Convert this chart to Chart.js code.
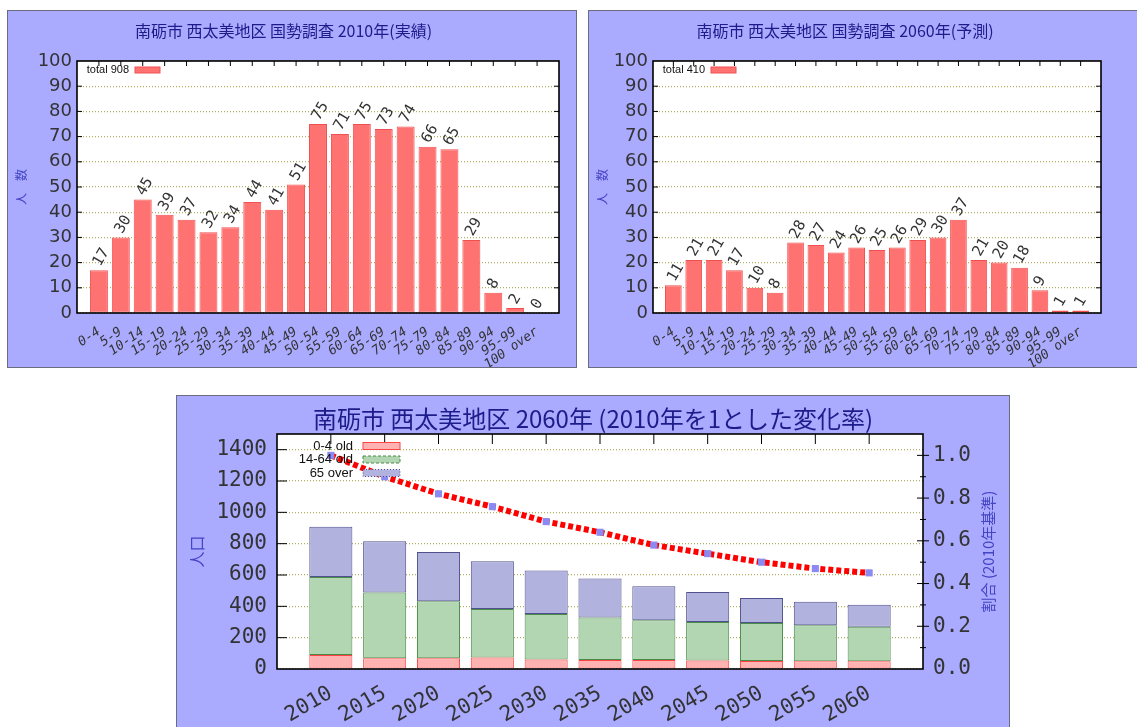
<!DOCTYPE html>
<html>
<head>
<meta charset="utf-8">
<script src="https://cdn.jsdelivr.net/npm/chart.js@4.4.0/dist/chart.umd.min.js"></script>
<style>
html, body { margin:0; padding:0; background:#fff; overflow:hidden; width:1137px; height:727px; }
.panel { position:absolute; background:#aaaaff; border:1px solid #6c6c80; }
#p1 { left:7px; top:10px; width:568px; height:356px; }
#p2 { left:588px; top:10px; width:556px; height:356px; }
#p3 { left:176px; top:395px; width:832px; height:340px; }
canvas { display:block; }
</style>
</head>
<body>
<div class="panel" id="p1"><canvas id="c1" width="568" height="356"></canvas></div>
<div class="panel" id="p2"><canvas id="c2" width="556" height="356"></canvas></div>
<div class="panel" id="p3"><canvas id="c3" width="832" height="340"></canvas></div>
<script>
// age groups (top charts)
var ageGroups = ['0-4','5-9','10-14','15-19','20-24','25-29','30-34','35-39','40-44','45-49',
   '50-54','55-59','60-64','65-69','70-74','75-79','80-84','85-89','90-94','95-99','100 over'];
var pop2010 = [17,30,45,39,37,32,34,44,41,51,75,71,75,73,74,66,65,29,8,2,0];
var pop2060 = [11,21,21,17,10,8,28,27,24,26,25,26,29,30,37,21,20,18,9,1,1];

// bottom chart
var years = ['2010','2015','2020','2025','2030','2035','2040','2045','2050','2055','2060'];
var popYoung   = [89,68,68,74,60,57,57,55,51,49,49];
var popWorking = [498,421,364,309,291,271,254,245,243,230,221];
var popOld     = [321,326,315,304,277,249,217,191,159,151,140];
var ratio      = [1.0,0.90,0.82,0.76,0.69,0.64,0.58,0.54,0.50,0.47,0.45];

var titleColor = '#1c1c8a';
var axisTitleColor = '#4444c4';
var jpFont = '"Noto Sans CJK JP", "Noto Sans", sans-serif';

// white plot area + black frame with inward ticks (gnuplot look)
var framePlugin = {
   id: 'frame',
   beforeDraw: function(chart) {
      var a = chart.chartArea, ctx = chart.ctx;
      ctx.save();
      ctx.fillStyle = '#ffffff';
      ctx.fillRect(a.left, a.top, a.width, a.height);
      ctx.restore();
   },
   afterDatasetsDraw: function(chart, args, opts) {
      var a = chart.chartArea, ctx = chart.ctx;
      var len = opts.tickLength || 5;
      var xs = chart.scales.x, ys = chart.scales.y, y1 = chart.scales.y1;
      ctx.save();
      ctx.strokeStyle = '#000';
      ctx.lineWidth = 1;
      ctx.beginPath();
      ys.ticks.forEach(function(t) {
         if (t.value <= ys.min || t.value >= ys.max) return;
         var py = ys.getPixelForValue(t.value);
         ctx.moveTo(a.left, py); ctx.lineTo(a.left + len, py);
         if (!y1) { ctx.moveTo(a.right, py); ctx.lineTo(a.right - len, py); }
      });
      xs.ticks.forEach(function(t) {
         if (!t.label) return;
         var px = xs.getPixelForValue(t.value);
         ctx.moveTo(px, a.top); ctx.lineTo(px, a.top + len);
      });
      if (y1) {
         y1.ticks.forEach(function(t) {
            var py = y1.getPixelForValue(t.value);
            if (t.value > 0) { ctx.moveTo(a.right - 6, py); ctx.lineTo(a.right + 6, py); }
            var pm = y1.getPixelForValue(t.value + 0.1);
            if (pm > a.top) { ctx.moveTo(a.right - 3, pm); ctx.lineTo(a.right + 3, pm); }
         });
      }
      ctx.stroke();
      ctx.lineWidth = 1.6;
      ctx.strokeRect(a.left, a.top, a.width, a.height);
      ctx.restore();
   }
};

// rotated value labels over each bar
var barValuePlugin = {
   id: 'barValues',
   afterDatasetsDraw: function(chart) {
      var ctx = chart.ctx;
      var ds = chart.data.datasets[0];
      var meta = chart.getDatasetMeta(0);
      ctx.save();
      ctx.font = '15px "DejaVu Sans Mono"';
      ctx.fillStyle = '#333';
      ctx.textAlign = 'left';
      ctx.textBaseline = 'middle';
      meta.data.forEach(function(bar, i) {
         ctx.save();
         ctx.translate(bar.x - 2, bar.y - 5);
         ctx.rotate(-Math.PI / 3);
         ctx.fillText(String(ds.data[i].y), 0, 0);
         ctx.restore();
      });
      ctx.restore();
   }
};

// key inside plot: text right aligned, box on the right
var keyPlugin = {
   id: 'key',
   afterDraw: function(chart, args, opts) {
      var a = chart.chartArea, ctx = chart.ctx;
      ctx.save();
      ctx.font = opts.font;
      ctx.textAlign = 'right';
      ctx.textBaseline = 'middle';
      var row = 0;
      chart.data.datasets.forEach(function(ds) {
         if (ds.type === 'line') return;
         var y = a.top + opts.top + row * opts.rowHeight;
         ctx.fillStyle = '#111';
         ctx.fillText(ds.label, a.left + opts.textRight, y);
         ctx.fillStyle = ds.backgroundColor;
         ctx.fillRect(a.left + opts.boxLeft, y - opts.boxH / 2, opts.boxW, opts.boxH);
         ctx.setLineDash(opts.dashes ? opts.dashes[row] : []);
         ctx.strokeStyle = ds.borderColor;
         ctx.lineWidth = 1;
         ctx.strokeRect(a.left + opts.boxLeft, y - opts.boxH / 2, opts.boxW, opts.boxH);
         ctx.setLineDash([]);
         row++;
      });
      ctx.restore();
   }
};

// right axis title, reading bottom to top
var rightTitlePlugin = {
   id: 'rightTitle',
   afterDraw: function(chart, args, opts) {
      if (!opts.text) return;
      var a = chart.chartArea, ctx = chart.ctx;
      ctx.save();
      ctx.translate(a.right + opts.offset, (a.top + a.bottom) / 2);
      ctx.rotate(-Math.PI / 2);
      ctx.font = opts.font;
      ctx.fillStyle = opts.color;
      ctx.textAlign = 'center';
      ctx.textBaseline = 'middle';
      ctx.fillText(opts.text, 0, 0);
      ctx.restore();
   }
};

function ageChart(canvasId, titleText, keyLabel, values, yWidth, padRight) {
   var ctx = document.getElementById(canvasId);
   var points = values.map(function(v, i) { return {x: i, y: v}; });

   new Chart(ctx, {
      type: 'bar',
      data: {
         datasets: [{
            label: keyLabel,
            data: points,
            backgroundColor: '#ff7272',
            borderColor: '#f05050',
            borderWidth: 1,
            borderSkipped: false,
            barPercentage: 0.82,
            categoryPercentage: 1
         }]
      },
      plugins: [framePlugin, barValuePlugin, keyPlugin],
      options: {
         responsive: false,
         animation: false,
         layout: { padding: { top: 0, right: padRight, bottom: 0, left: 0 } },
         plugins: {
            legend: { display: false },
            tooltip: { enabled: false },
            title: {
               display: true,
               text: titleText,
               color: titleColor,
               font: { family: jpFont, size: 16, weight: 'normal' },
               padding: { top: 10, bottom: 20.8 }
            },
            frame: { tickLength: 5 },
            key: {
               font: '11px "Liberation Sans Narrow", "Liberation Sans"',
               top: 9, rowHeight: 13, textRight: 52, boxLeft: 58, boxW: 25, boxH: 6
            }
         },
         scales: {
            x: {
               type: 'linear',
               offset: false,
               min: -1,
               max: ageGroups.length,
               grid: { display: false },
               border: { display: false },
               ticks: {
                  stepSize: 1,
                  autoSkip: false,
                  minRotation: 35,
                  maxRotation: 35,
                  padding: 3,
                  color: '#333',
                  font: { family: 'DejaVu Sans Mono', size: 13, style: 'italic' },
                  callback: function(v) { return ageGroups[v] || ''; }
               },
               afterFit: function(s) { s.height = 54; }
            },
            y: {
               min: 0,
               max: 100,
               grid: { color: '#b0b064', lineWidth: 1.2, drawTicks: false },
               border: { display: false, dash: [1, 2] },
               ticks: {
                  stepSize: 10,
                  autoSkip: false,
                  padding: 5,
                  color: '#333',
                  font: { family: 'DejaVu Sans', size: 18 }
               },
               title: {
                  display: true,
                  text: '人　数',
                  color: axisTitleColor,
                  font: { family: jpFont, size: 12 },
                  padding: { top: 6, bottom: 0 }
               },
               afterFit: function(s) { s.width = yWidth; }
            }
         }
      }
   });
}

function trendChart(canvasId) {
   var ctx = document.getElementById(canvasId);
   function pts(arr) { return arr.map(function(v, i) { return {x: i, y: v}; }); }

   new Chart(ctx, {
      type: 'bar',
      data: {
         datasets: [{
            type: 'line',
            label: '2010年比',
            data: pts(ratio),
            yAxisID: 'y1',
            borderColor: '#ff0000',
            borderWidth: 6,
            borderDash: [5, 3],
            borderCapStyle: 'butt',
            tension: 0,
            pointStyle: 'rect',
            pointRadius: 5,
            pointBackgroundColor: '#8a8af2',
            pointBorderWidth: 0,
            order: 0
         }, {
            label: '0-4 old',
            data: pts(popYoung),
            backgroundColor: '#ffb2b2',
            borderColor: '#ff4444',
            borderWidth: 1,
            borderSkipped: false,
            barPercentage: 0.8,
            categoryPercentage: 1,
            order: 1
         }, {
            label: '14-64 old',
            data: pts(popWorking),
            backgroundColor: '#b2d6b2',
            borderColor: '#4a8a4a',
            borderWidth: 1,
            borderSkipped: false,
            barPercentage: 0.8,
            categoryPercentage: 1,
            order: 1
         }, {
            label: '65 over',
            data: pts(popOld),
            backgroundColor: '#b2b2de',
            borderColor: '#50508e',
            borderWidth: 1,
            borderSkipped: false,
            barPercentage: 0.8,
            categoryPercentage: 1,
            order: 1
         }]
      },
      plugins: [framePlugin, keyPlugin, rightTitlePlugin],
      options: {
         responsive: false,
         animation: false,
         layout: { padding: 0 },
         plugins: {
            legend: { display: false },
            tooltip: { enabled: false },
            title: {
               display: true,
               text: '南砺市 西太美地区 2060年 (2010年を1とした変化率)',
               color: titleColor,
               font: { family: jpFont, size: 24, weight: 'normal' },
               padding: { top: 8.6, bottom: 0.6 }
            },
            frame: { tickLength: 10 },
            key: {
               font: '13px "Liberation Sans"',
               top: 12, rowHeight: 13.5, textRight: 76, boxLeft: 86, boxW: 37, boxH: 7,
               dashes: [[], [3, 2], [1, 2]]
            },
            rightTitle: {
               text: '割合 (2010年基準)',
               font: '15px ' + jpFont,
               color: axisTitleColor,
               offset: 65
            }
         },
         scales: {
            x: {
               type: 'linear',
               stacked: true,
               offset: false,
               min: -1,
               max: years.length,
               grid: { display: false },
               border: { display: false },
               ticks: {
                  stepSize: 1,
                  autoSkip: false,
                  minRotation: 30,
                  maxRotation: 30,
                  padding: 4,
                  color: '#333',
                  font: { family: 'DejaVu Sans Mono', size: 21 },
                  callback: function(v) { return years[v] || ''; }
               },
               afterFit: function(s) { s.height = 67; }
            },
            y: {
               stacked: true,
               min: 0,
               max: 1500,
               grid: { color: '#b0b064', lineWidth: 1.2, drawTicks: false },
               border: { display: false, dash: [1, 2] },
               ticks: {
                  stepSize: 200,
                  autoSkip: false,
                  includeBounds: false,
                  padding: 10,
                  color: '#333',
                  font: { family: 'DejaVu Sans Mono', size: 21 },
                  callback: function(v) { return String(v); }
               },
               title: {
                  display: true,
                  text: '人口',
                  color: axisTitleColor,
                  font: { family: jpFont, size: 16 },
                  padding: { top: 10, bottom: 0 }
               },
               afterFit: function(s) { s.width = 100; }
            },
            y1: {
               position: 'right',
               min: 0,
               max: 1.1,
               grid: { drawOnChartArea: false, drawTicks: false },
               border: { display: false },
               ticks: {
                  stepSize: 0.2,
                  autoSkip: false,
                  includeBounds: false,
                  padding: 10,
                  color: '#333',
                  font: { family: 'DejaVu Sans Mono', size: 21 },
                  callback: function(v) { return v.toFixed(1); }
               },
               afterFit: function(s) { s.width = 86; }
            }
         }
      }
   });
}

ageChart('c1', '南砺市 西太美地区 国勢調査 2010年(実績)', 'total 908', pop2010, 69, 17);
ageChart('c2', '南砺市 西太美地区 国勢調査 2060年(予測)', 'total 410', pop2060, 64, 44);
trendChart('c3');
</script>
</body>
</html>
